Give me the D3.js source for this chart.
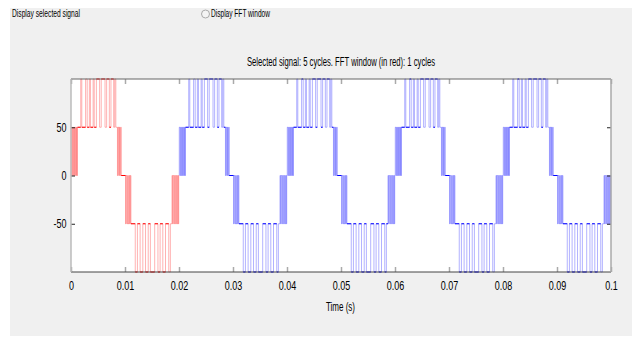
<!DOCTYPE html>
<html>
<head>
<meta charset="utf-8">
<script src="https://cdn.jsdelivr.net/npm/d3@7"></script>
<style>
  body { margin: 0; background: #fff; }
  text { font-family: "Liberation Sans Narrow", "Arial Narrow", "Liberation Sans", sans-serif; fill: #000; }
</style>
</head>
<body>
<svg id="chart" width="644" height="338"></svg>
<script>
// Signal data
const cycleStart = [0, 0.02, 0.04, 0.06, 0.08];   // s, start of each displayed cycle
const fftCycles = 1;                              // cycles in the FFT window (drawn red)
// switching instants inside one 20 ms cycle (ms) and the level held after each
const edgeTimesMs = [
  0.05, 0.2, 0.3, 0.45, 0.55, 0.65, 0.8, 0.9, 1.0, 1.1, 1.2,
  1.8, 2.0, 2.7, 3.0, 3.4, 3.6, 4.1, 4.3, 4.7, 5.3, 5.6, 6.3, 6.6, 7.1, 7.4, 7.9, 8.1, 8.3,
  8.6, 8.7, 8.85, 8.95, 9.05, 9.2, 9.3,
  10.1, 10.2, 10.35, 10.5, 10.6, 10.75, 10.85, 11.0, 11.1,
  11.9, 12.3, 12.8, 13.3, 13.8, 14.3, 14.7, 15.5, 16.1, 16.5, 17.0, 17.5, 18.1, 18.4,
  18.7, 18.8, 18.95, 19.1, 19.2, 19.35, 19.5, 19.6, 19.75, 19.85, 19.95
];
const edgeLevels = [
  50, 0, 50, 0, 50, 0, 50, 0, 50, 0, 50,
  100, 50, 100, 50, 100, 50, 100, 50, 100, 50, 100, 50, 100, 50, 100, 50, 100, 50,
  0, 50, 0, 50, 0, 50, 0,
  -50, 0, -50, 0, -50, 0, -50, 0, -50,
  -100, -50, -100, -50, -100, -50, -100, -50, -100, -50, -100, -50, -100, -50,
  0, -50, 0, -50, 0, -50, 0, -50, 0, -50, 0
];
const cycleLength = 0.02;
const xTicks = [0, 0.01, 0.02, 0.03, 0.04, 0.05, 0.06, 0.07, 0.08, 0.09, 0.1];
const xTickLabels = ["0", "0.01", "0.02", "0.03", "0.04", "0.05", "0.06", "0.07", "0.08", "0.09", "0.1"];
const yTicks = [-50, 0, 50];
const yTickLabels = ["-50", "0", "50"];
const titleText = "Selected signal: 5 cycles. FFT window (in red): 1 cycles";

const svg = d3.select("#chart");

// grey figure panel
svg.append("rect")
  .attr("x", 10).attr("y", 8)
  .attr("width", 622).attr("height", 328)
  .attr("fill", "#f0f0f0");

// top controls
svg.append("text")
  .attr("x", 12).attr("y", 17)
  .attr("font-size", 10)
  .attr("textLength", 68).attr("lengthAdjust", "spacingAndGlyphs")
  .text("Display selected signal");

svg.append("circle")
  .attr("cx", 205.5).attr("cy", 14)
  .attr("r", 4)
  .attr("fill", "#f4f4f4")
  .attr("stroke", "#aaa");

svg.append("text")
  .attr("x", 211).attr("y", 17)
  .attr("font-size", 10)
  .attr("textLength", 59).attr("lengthAdjust", "spacingAndGlyphs")
  .text("Display FFT window");

// plot area
const margin = { left: 71, right: 611, top: 79, bottom: 272 };
const x = d3.scaleLinear().domain([0, 0.1]).range([margin.left, margin.right]);
const y = d3.scaleLinear().domain([-100, 100]).range([margin.bottom, margin.top]);

svg.append("rect")
  .attr("x", margin.left).attr("y", margin.top)
  .attr("width", margin.right - margin.left)
  .attr("height", margin.bottom - margin.top)
  .attr("fill", "#fff");

// signal, one path per cycle
const line = d3.line()
  .x(d => x(d.t))
  .y(d => y(d.v))
  .curve(d3.curveStepAfter);

cycleStart.forEach((cs, c) => {
  const colour = c < fftCycles ? "#ff0000" : "#0000ff";
  const pts = [{ t: cs, v: 0 }];
  edgeTimesMs.forEach((ms, i) => pts.push({ t: cs + ms / 1000, v: edgeLevels[i] }));
  pts.push({ t: cs + cycleLength, v: 0 });

  // full switching trace, faint like the anti-aliased original
  svg.append("path")
    .datum(pts)
    .attr("d", line)
    .attr("fill", "none")
    .attr("stroke", colour)
    .attr("stroke-width", 1)
    .attr("stroke-opacity", 0.3);

  // the longer held levels show up solid
  const holds = pts.slice(0, -1)
    .map((p, i) => ({ t0: p.t, t1: pts[i + 1].t, v: p.v }))
    .filter(h => h.t1 - h.t0 >= 0.0003);
  svg.append("g")
    .selectAll("line")
    .data(holds)
    .join("line")
    .attr("x1", d => x(d.t0)).attr("x2", d => x(d.t1))
    .attr("y1", d => y(d.v)).attr("y2", d => y(d.v))
    .attr("stroke", colour)
    .attr("stroke-width", 1);
});

// axes (ticks point inward, matlab style)
const xAxisB = svg.append("g")
  .attr("transform", `translate(0,${margin.bottom})`)
  .call(d3.axisBottom(x).tickValues(xTicks).tickSize(-5).tickPadding(9)
    .tickFormat((d, i) => xTickLabels[i]));
const xAxisT = svg.append("g")
  .attr("transform", `translate(0,${margin.top})`)
  .call(d3.axisTop(x).tickValues(xTicks).tickSize(-5).tickFormat(""));
const yAxisL = svg.append("g")
  .attr("transform", `translate(${margin.left},0)`)
  .call(d3.axisLeft(y).tickValues(yTicks).tickSize(-4).tickPadding(6)
    .tickFormat((d, i) => yTickLabels[i]));
const yAxisR = svg.append("g")
  .attr("transform", `translate(${margin.right},0)`)
  .call(d3.axisRight(y).tickValues(yTicks).tickSize(-4).tickFormat(""));

[xAxisB, xAxisT, yAxisL, yAxisR].forEach(g => {
  g.select(".domain").remove();
  g.selectAll("text")
    .attr("font-size", 12)
    .attr("font-family", null)
    .attr("transform", "scale(0.75,1)");
});
[xAxisB, xAxisT].forEach(g => g.selectAll(".tick line").attr("stroke", "#aaa").attr("stroke-width", 1.5));
[yAxisL, yAxisR].forEach(g => g.selectAll(".tick line").attr("stroke", "#222"));

// axes box
svg.append("line")
  .attr("x1", margin.left).attr("x2", margin.right)
  .attr("y1", margin.top).attr("y2", margin.top)
  .attr("stroke", "#666");
svg.append("line")
  .attr("x1", margin.left).attr("x2", margin.right)
  .attr("y1", margin.bottom).attr("y2", margin.bottom)
  .attr("stroke", "#444");
svg.append("line")
  .attr("x1", margin.left).attr("x2", margin.left)
  .attr("y1", margin.top).attr("y2", margin.bottom)
  .attr("stroke", "#bbb").attr("stroke-width", 1.5);
svg.append("line")
  .attr("x1", margin.right).attr("x2", margin.right)
  .attr("y1", margin.top).attr("y2", margin.bottom)
  .attr("stroke", "#aaa").attr("stroke-width", 1.5);

// title and x label
svg.append("text")
  .attr("x", (margin.left + margin.right) / 2).attr("y", 66)
  .attr("text-anchor", "middle")
  .attr("font-size", 12)
  .attr("textLength", 188).attr("lengthAdjust", "spacingAndGlyphs")
  .text(titleText);

svg.append("text")
  .attr("x", 340.5).attr("y", 311)
  .attr("text-anchor", "middle")
  .attr("font-size", 12)
  .attr("textLength", 29).attr("lengthAdjust", "spacingAndGlyphs")
  .text("Time (s)");
</script>
</body>
</html>
